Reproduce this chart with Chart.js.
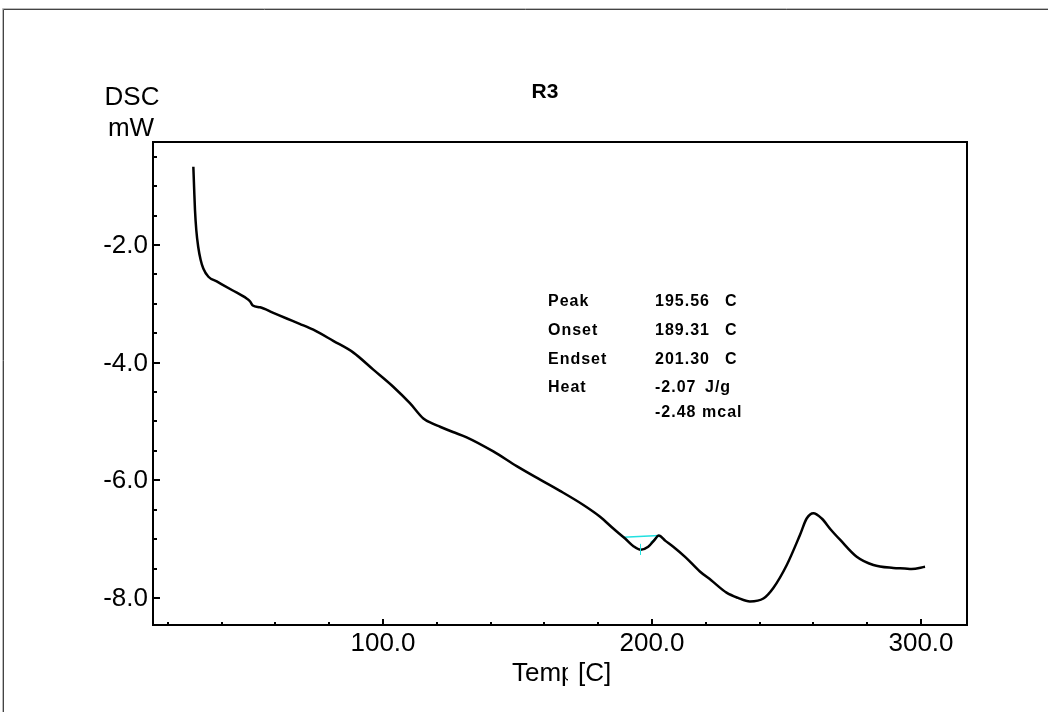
<!DOCTYPE html>
<html>
<head>
<meta charset="utf-8">
<script src="https://cdn.jsdelivr.net/npm/chart.js@4.4.1/dist/chart.umd.min.js"></script>
<style>
html,body{margin:0;padding:0;background:#fff;}
#wrap{position:relative;width:1048px;height:712px;}
</style>
</head>
<body>
<div id="wrap"><canvas id="c" width="1048" height="712"></canvas></div>
<script>
// ---- data ----
const tempC = [29.5, 29.8, 30.1, 30.6, 31.3, 32.2, 33.2, 35.1, 38.2, 44, 49.3, 50.6, 51.6, 54.3, 59, 64.2, 69, 74.1, 81.5, 89.0, 96.4, 103.8, 110.0, 115.0, 118.7, 121.2, 126, 131.1, 141.0, 149.7, 158.4, 165.8, 174.5, 180.7, 185.6, 190.0, 193.1, 195.8, 198.6, 200.8, 202.5, 205, 207.9, 212.5, 217.8, 222.0, 227.7, 232, 236.4, 241.4, 245.1, 250.1, 255.0, 257.5, 260.0, 263.1, 266.5, 269.9, 276.1, 282.3, 289.7, 294, 296.5, 301.5];
const dscMW = [-0.67, -1.05, -1.40, -1.75, -2.03, -2.25, -2.40, -2.54, -2.62, -2.77, -2.91, -2.96, -3.03, -3.06, -3.15, -3.25, -3.34, -3.44, -3.63, -3.83, -4.12, -4.41, -4.69, -4.95, -5.04, -5.09, -5.18, -5.27, -5.51, -5.76, -5.99, -6.18, -6.42, -6.62, -6.82, -6.99, -7.12, -7.18, -7.13, -7.02, -6.94, -7.03, -7.13, -7.31, -7.55, -7.70, -7.91, -8.00, -8.06, -8.01, -7.83, -7.44, -6.93, -6.65, -6.56, -6.65, -6.84, -7.01, -7.30, -7.44, -7.49, -7.50, -7.51, -7.47];
const baselineX = [189.31, 202.7];
const baselineY = [-6.97, -6.94];
const tangentX = [199.5, 202.4];
const tangentY = [-7.06, -6.95];
const peakTemp = 195.56;
const peakMarkY = [-7.08, -7.27];

const xMajorTicks = [100, 200, 300];
const xMinorTicks = [20, 40, 60, 80, 120, 140, 160, 180, 220, 240, 260, 280];
const yMajorTicks = [-2, -4, -6, -8];
const yMinorTicks = [-0.5, -1, -1.5, -2.5, -3, -3.5, -4.5, -5, -5.5, -6.5, -7, -7.5];

const annLabels = ["Peak", "Onset", "Endset", "Heat", ""];
const annValues = ["195.56", "189.31", "201.30", "-2.07", "-2.48"];
const annUnits = ["C", "C", "C", "J/g", "mcal"];

const titleText = "R3";
const yTitle = ["DSC", "mW"];
const xTitle = ["Temp", "[C]"];

const FONT = '"Liberation Sans", Arial, sans-serif';

const deco = {
  id: 'deco',
  beforeDraw(chart) {
    const ctx = chart.ctx;
    ctx.save();
    ctx.fillStyle = '#fff';
    ctx.fillRect(0, 0, chart.width, chart.height);
    // outer frame (left/top)
    ctx.strokeStyle = '#bbb'; ctx.lineWidth = 1;
    ctx.beginPath(); ctx.moveTo(2.5, chart.height); ctx.lineTo(2.5, 8.5); ctx.lineTo(chart.width, 8.5); ctx.stroke();
    ctx.strokeStyle = '#444';
    ctx.beginPath(); ctx.moveTo(3.5, chart.height); ctx.lineTo(3.5, 9.5); ctx.lineTo(chart.width, 9.5); ctx.stroke();
    ctx.restore();
  },
  afterDatasetsDraw(chart) {
    const ctx = chart.ctx;
    const xs = chart.scales.x, ys = chart.scales.y;
    const a = chart.chartArea;
    ctx.save();
    // plot box
    ctx.strokeStyle = '#000'; ctx.lineWidth = 2;
    ctx.strokeRect(a.left, a.top, a.right - a.left, a.bottom - a.top);
    // ticks (inward)
    ctx.beginPath();
    yMajorTicks.forEach(v => { const y = Math.round(ys.getPixelForValue(v)); ctx.moveTo(a.left, y); ctx.lineTo(a.left + 7, y); });
    yMinorTicks.forEach(v => { const y = Math.round(ys.getPixelForValue(v)); ctx.moveTo(a.left, y); ctx.lineTo(a.left + 4, y); });
    xMajorTicks.forEach(v => { const x = Math.round(xs.getPixelForValue(v)); ctx.moveTo(x, a.bottom); ctx.lineTo(x, a.bottom - 6); });
    xMinorTicks.forEach(v => { const x = Math.round(xs.getPixelForValue(v)); ctx.moveTo(x, a.bottom); ctx.lineTo(x, a.bottom - 3); });
    ctx.stroke();
    // tick labels
    ctx.fillStyle = '#000';
    ctx.font = '26px ' + FONT;
    ctx.textAlign = 'right'; ctx.textBaseline = 'middle';
    yMajorTicks.forEach(v => ctx.fillText(v.toFixed(1), a.left - 5, ys.getPixelForValue(v) + 1));
    ctx.textAlign = 'center'; ctx.textBaseline = 'top';
    xMajorTicks.forEach(v => ctx.fillText(v.toFixed(1), xs.getPixelForValue(v), a.bottom + 6));
    // axis titles
    ctx.textAlign = 'center'; ctx.textBaseline = 'alphabetic';
    ctx.fillText(yTitle[0], 132, 105);
    ctx.fillText(yTitle[1], 131, 136);
    ctx.textAlign = 'left';
    ctx.fillText(xTitle[0], 512, 681);
    ctx.fillStyle = '#fff';
    ctx.fillRect(568, 660, 10, 30);
    ctx.fillStyle = '#000';
    ctx.fillText(xTitle[1], 578, 681);
    // title
    ctx.font = 'bold 21px ' + FONT;
    ctx.textAlign = 'center';
    ctx.fillText(titleText, 545, 98);
    // annotation
    ctx.font = 'bold 16px ' + FONT;
    ctx.letterSpacing = '1px';
    ctx.textAlign = 'left'; ctx.textBaseline = 'middle';
    const rowsY = [302, 331, 360, 388, 413];
    annLabels.forEach((t, i) => {
      if (t) ctx.fillText(t, 548, rowsY[i]);
      ctx.fillText(annValues[i], 655, rowsY[i]);
      const u = annUnits[i];
      ctx.fillText(u, u === 'C' ? 725 : (u === 'J/g' ? 705 : 702), rowsY[i]);
    });
    ctx.letterSpacing = '0px';
    // peak mark
    ctx.strokeStyle = '#22e0e0'; ctx.lineWidth = 1;
    ctx.beginPath();
    const px = Math.round(xs.getPixelForValue(peakTemp)) + 0.5;
    ctx.moveTo(px, ys.getPixelForValue(peakMarkY[0])); ctx.lineTo(px, ys.getPixelForValue(peakMarkY[1]));
    ctx.stroke();
    ctx.restore();
  }
};

new Chart(document.getElementById('c'), {
  type: 'line',
  data: {
    datasets: [
      {
        data: baselineX.map((x, i) => ({x, y: baselineY[i]})),
        borderColor: '#22e0e0', borderWidth: 1.5, pointRadius: 0, tension: 0, order: 3
      },
      {
        data: tangentX.map((x, i) => ({x, y: tangentY[i]})),
        borderColor: '#22e0e0', borderWidth: 1.5, pointRadius: 0, tension: 0, order: 2
      },
      {
        data: tempC.map((x, i) => ({x, y: dscMW[i]})),
        borderColor: '#000', borderWidth: 2.5, pointRadius: 0,
        cubicInterpolationMode: 'monotone', order: 1
      }
    ]
  },
  options: {
    responsive: false, animation: false,
    layout: { padding: { left: 153, top: 142, right: 1048 - 967, bottom: 712 - 625 } },
    plugins: { legend: { display: false }, tooltip: { enabled: false }, title: { display: false } },
    scales: {
      x: { type: 'linear', min: 14.5, max: 317.1, display: false },
      y: { type: 'linear', min: -8.46, max: -0.25, display: false }
    }
  },
  plugins: [deco]
});
</script>
</body>
</html>
